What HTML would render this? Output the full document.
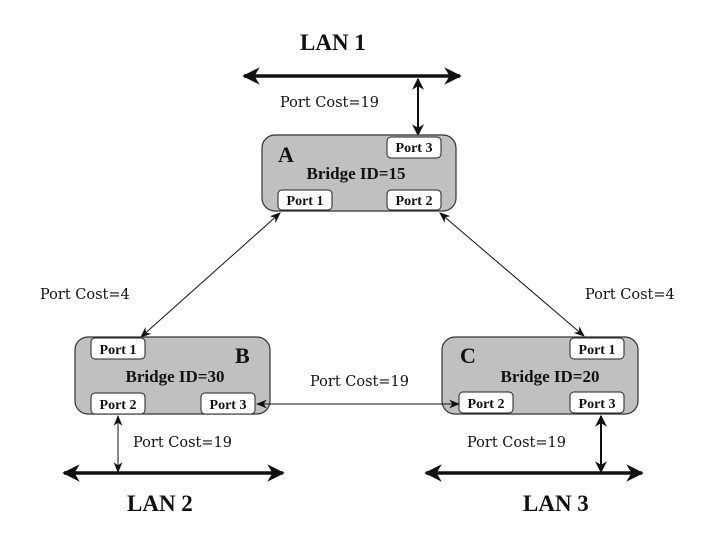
<!DOCTYPE html>
<html><head><meta charset="utf-8"><style>
html,body{margin:0;padding:0;background:#fff;}
svg{display:block;}
svg text{fill:#111;}
.pc{font-family:"DejaVu Serif",serif;font-size:14.5px;}
.pt{font-family:"Liberation Serif",serif;font-size:14px;font-weight:bold;}
.bid{font-family:"Liberation Serif",serif;font-size:17px;font-weight:bold;}
.lan{font-family:"Liberation Serif",serif;font-size:23px;font-weight:bold;}
.let{font-family:"Liberation Serif",serif;font-size:22px;font-weight:bold;}
</style></head><body>
<svg width="720" height="540" viewBox="0 0 720 540" xmlns="http://www.w3.org/2000/svg">
<defs>
<marker id="big" viewBox="0 0 10 10" refX="9" refY="5" markerWidth="6" markerHeight="5" orient="auto-start-reverse" markerUnits="strokeWidth">
<path d="M0,0 L10,5 L0,10 L3,5 z" fill="#111"/></marker>
<marker id="med" viewBox="0 0 10 10" refX="9" refY="5" markerWidth="6" markerHeight="6" orient="auto-start-reverse" markerUnits="strokeWidth">
<path d="M0,0 L10,5 L0,10 L3,5 z" fill="#111"/></marker>
<marker id="sm" viewBox="0 0 10 10" refX="9" refY="5" markerWidth="11" markerHeight="11" orient="auto-start-reverse" markerUnits="strokeWidth">
<path d="M0,1 L10,5 L0,9 L3,5 z" fill="#111"/></marker>
</defs>

<text class="lan" x="300" y="50">LAN 1</text>
<line x1="244" y1="76" x2="460" y2="76" stroke="#111" stroke-width="3.5" marker-start="url(#big)" marker-end="url(#big)"/>
<line x1="418" y1="79" x2="418" y2="135" stroke="#111" stroke-width="2" marker-start="url(#med)" marker-end="url(#med)"/>
<text class="pc" x="280" y="107">Port Cost=19</text>

<rect x="262" y="135" width="194" height="76" rx="13" fill="#c0c0c0" stroke="#333" stroke-width="1.2"/>
<rect x="387" y="137" width="54" height="21" rx="4" fill="#fff" stroke="#222"/>
<text class="pt" x="414" y="152" text-anchor="middle">Port 3</text>
<rect x="278" y="190" width="54" height="20" rx="4" fill="#fff" stroke="#222"/>
<text class="pt" x="305" y="205" text-anchor="middle">Port 1</text>
<rect x="387" y="190" width="54" height="20" rx="4" fill="#fff" stroke="#222"/>
<text class="pt" x="414" y="205" text-anchor="middle">Port 2</text>
<text class="let" x="278" y="162">A</text>
<text class="bid" x="356" y="179" text-anchor="middle">Bridge ID=15</text>

<line x1="280" y1="213" x2="141" y2="337" stroke="#111" stroke-width="1" marker-start="url(#sm)" marker-end="url(#sm)"/>
<line x1="440" y1="213" x2="584" y2="336" stroke="#111" stroke-width="1" marker-start="url(#sm)" marker-end="url(#sm)"/>
<text class="pc" x="40" y="299">Port Cost=4</text>
<text class="pc" x="585" y="299">Port Cost=4</text>

<rect x="75" y="337" width="195" height="77" rx="13" fill="#c0c0c0" stroke="#333" stroke-width="1.2"/>
<rect x="91" y="338" width="54" height="21" rx="4" fill="#fff" stroke="#222"/>
<text class="pt" x="118" y="354" text-anchor="middle">Port 1</text>
<rect x="91" y="393" width="54" height="21" rx="4" fill="#fff" stroke="#222"/>
<text class="pt" x="118" y="409" text-anchor="middle">Port 2</text>
<rect x="201" y="393" width="54" height="21" rx="4" fill="#fff" stroke="#222"/>
<text class="pt" x="228" y="409" text-anchor="middle">Port 3</text>
<text class="let" x="235" y="363">B</text>
<text class="bid" x="175" y="382" text-anchor="middle">Bridge ID=30</text>

<rect x="442" y="337" width="196" height="77" rx="13" fill="#c0c0c0" stroke="#333" stroke-width="1.2"/>
<rect x="570" y="338" width="54" height="21" rx="4" fill="#fff" stroke="#222"/>
<text class="pt" x="597" y="354" text-anchor="middle">Port 1</text>
<rect x="459" y="392" width="54" height="21" rx="4" fill="#fff" stroke="#222"/>
<text class="pt" x="486" y="408" text-anchor="middle">Port 2</text>
<rect x="570" y="392" width="54" height="21" rx="4" fill="#fff" stroke="#222"/>
<text class="pt" x="597" y="408" text-anchor="middle">Port 3</text>
<text class="let" x="460" y="363">C</text>
<text class="bid" x="550" y="382" text-anchor="middle">Bridge ID=20</text>

<line x1="257" y1="404" x2="459" y2="404" stroke="#111" stroke-width="1" marker-start="url(#sm)" marker-end="url(#sm)"/>
<text class="pc" x="310" y="386">Port Cost=19</text>

<line x1="118" y1="416" x2="118" y2="472" stroke="#111" stroke-width="1" marker-start="url(#sm)" marker-end="url(#sm)"/>
<line x1="64" y1="473" x2="283" y2="473" stroke="#111" stroke-width="3.5" marker-start="url(#big)" marker-end="url(#big)"/>
<text class="pc" x="133" y="447">Port Cost=19</text>
<text class="lan" x="127" y="511">LAN 2</text>

<line x1="601" y1="416" x2="601" y2="472" stroke="#111" stroke-width="2" marker-start="url(#med)" marker-end="url(#med)"/>
<line x1="426" y1="473" x2="642" y2="473" stroke="#111" stroke-width="3.5" marker-start="url(#big)" marker-end="url(#big)"/>
<text class="pc" x="467" y="447">Port Cost=19</text>
<text class="lan" x="523" y="511">LAN 3</text>
</svg>
</body></html>
